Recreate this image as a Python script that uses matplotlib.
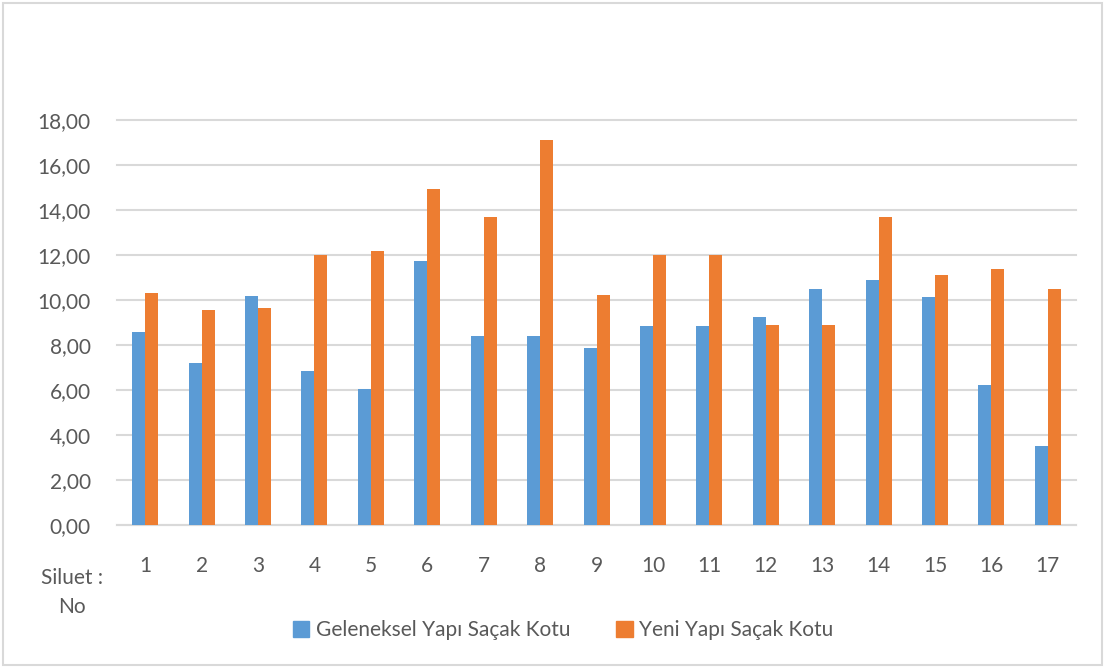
import matplotlib.pyplot as plt
from matplotlib.patches import Rectangle, Patch

# Siluet numaralari ve sacak kotlari (m)
siluet = [str(i) for i in range(1, 18)]
geleneksel = [8.56, 7.19, 10.19, 6.83, 6.06, 11.75, 8.41, 8.41, 7.87,
              8.83, 8.83, 9.26, 10.49, 10.89, 10.12, 6.24, 3.53]
yeni = [10.31, 9.56, 9.64, 12.00, 12.18, 14.95, 13.67, 17.11, 10.24,
        12.00, 12.00, 8.87, 8.87, 13.69, 11.10, 11.38, 10.50]
y_ticks = [0, 2, 4, 6, 8, 10, 12, 14, 16, 18]
seri_adlari = ['Geleneksel Yapı Saçak Kotu', 'Yeni Yapı Saçak Kotu']

MAVI = '#5B9BD5'
TURUNCU = '#ED7D31'
GRI_YAZI = '#595959'
GRI_CIZGI = '#D9D9D9'

plt.rcParams['font.family'] = ['Lato', 'DejaVu Sans']

fig = plt.figure(figsize=(11.05, 6.68), dpi=100)
ax = fig.add_axes([0.1059, 0.2141, 0.8679, 0.6063])

# GRAFIK CERCEVESI -----------------------------------
fig.patches.append(Rectangle((0.003, 0.004), 0.994, 0.992, transform=fig.transFigure,
                             fill=False, edgecolor=GRI_CIZGI, linewidth=1.5))
# ----------------------------------------------------

# SUTUNLAR -------------------------------------------
x = range(len(siluet))
w = 0.23
ax.bar([i - w / 2 for i in x], geleneksel, width=w, color=MAVI, zorder=3)
ax.bar([i + w / 2 for i in x], yeni, width=w, color=TURUNCU, zorder=3)
# ----------------------------------------------------

ax.set_xlim(-0.5, len(siluet) - 0.5)
ax.set_ylim(0, 18)
ax.set_yticks(y_ticks)
ax.set_yticklabels(['%.2f' % v for v in y_ticks])
ax.yaxis.set_major_formatter(plt.FuncFormatter(lambda v, p: ('%.2f' % v).replace('.', ',')))
ax.set_xticks(list(x))
ax.set_xticklabels(siluet)
ax.tick_params(axis='y', length=0, pad=19, labelsize=15, labelcolor=GRI_YAZI)
ax.tick_params(axis='x', length=0, pad=22, labelsize=15, labelcolor=GRI_YAZI)

ax.grid(axis='y', color=GRI_CIZGI, linewidth=1.5, zorder=0)
for gl in ax.get_ygridlines():
    gl.set_clip_on(False)
for side in ['top', 'right', 'left']:
    ax.spines[side].set_visible(False)
ax.spines['bottom'].set_color(GRI_CIZGI)
ax.spines['bottom'].set_linewidth(1.5)

fig.text(72 / 1105, 1 - 578 / 668, 'Siluet :', ha='center', va='center',
         fontsize=15, color=GRI_YAZI)
fig.text(72 / 1105, 1 - 607 / 668, 'No', ha='center', va='center',
         fontsize=15, color=GRI_YAZI)

handles = [Patch(color=MAVI), Patch(color=TURUNCU)]
leg = fig.legend(handles, seri_adlari, loc='center', ncol=2,
                 bbox_to_anchor=(563 / 1105, 1 - 630 / 668), frameon=False,
                 fontsize=15, handlelength=0.8, handleheight=0.8,
                 handletextpad=0.3, columnspacing=2.2)
for t in leg.get_texts():
    t.set_color(GRI_YAZI)

fig.savefig('out.png', dpi=100)
